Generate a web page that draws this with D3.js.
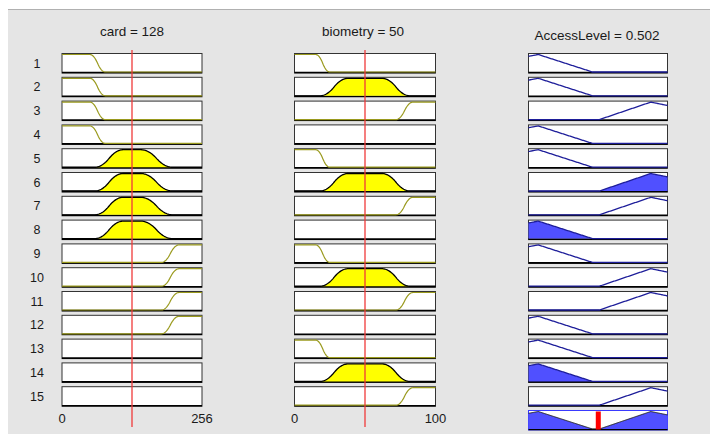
<!DOCTYPE html>
<html>
<head>
<meta charset="utf-8">
<script src="https://cdn.jsdelivr.net/npm/d3@7"></script>
<style>
  body { margin: 0; background: #fff; }
  svg { display: block; font-family: "Liberation Sans", Arial, sans-serif; }
</style>
</head>
<body>
<div id="chart"></div>
<script>
// Rule numbers
const rules = d3.range(1, 16);

// Membership function used by each rule, per variable
const cardRule = ["low","low","low","low","medium","medium","medium","medium","high","high","high","high","none","none","none"];
const bioRule = ["low","medium","high","none","low","medium","high","none","low","medium","high","none","low","medium","high"];
const accessRule = ["low","low","high","low","low","high","high","low","low","high","high","low","low","low","high"];

// Membership function parameters
const cardLow = [51, 79];               // zmf
const cardMedium = [60, 112, 144, 202]; // pimf
const cardHigh = [182, 214];            // smf
const bioLow = [15, 25];
const bioMedium = [18, 38, 62, 82];
const bioHigh = [72, 84];
const accessLow = [-0.6, 0.07, 0.46];   // trimf
const accessHigh = [0.51, 0.88, 1.5];

// Ranges and current values
const cardRange = [0, 256], bioRange = [0, 100], accessRange = [0, 1];
const cardValue = 128, bioValue = 50, accessValue = 0.502;

// membership functions
function zmf(x, p) {
    const a = p[0], b = p[1];
    if (x <= a) return 1;
    if (x <= (a + b) / 2) return 1 - 2 * Math.pow((x - a) / (b - a), 2);
    if (x <= b) return 2 * Math.pow((x - b) / (b - a), 2);
    return 0;
}
function smf(x, p) { return 1 - zmf(x, p); }
function pimf(x, p) { return smf(x, [p[0], p[1]]) * zmf(x, [p[2], p[3]]); }
function trimf(x, p) {
    if (x <= p[0] || x >= p[2]) return 0;
    return x <= p[1] ? (x - p[0]) / (p[1] - p[0]) : (p[2] - x) / (p[2] - p[1]);
}

const cardMF = { low: x => zmf(x, cardLow), medium: x => pimf(x, cardMedium), high: x => smf(x, cardHigh) };
const bioMF = { low: x => zmf(x, bioLow), medium: x => pimf(x, bioMedium), high: x => smf(x, bioHigh) };
const accessMF = { low: x => trimf(x, accessLow), high: x => trimf(x, accessHigh) };

const width = 710, height = 434;

const svg = d3.select("#chart")
    .append("svg")
    .attr("width", width)
    .attr("height", height);

// grey figure panel
svg.append("rect")
    .attr("x", 8).attr("y", 10)
    .attr("width", width - 8).attr("height", height - 10)
    .attr("fill", "#e5e5e5");
svg.append("line")
    .attr("x1", 8).attr("x2", width)
    .attr("y1", 9.5).attr("y2", 9.5)
    .attr("stroke", "#b0b0b0");

// Row position scale (row 16 = aggregated output)
const rowY = d3.scaleLinear().domain([1, 16]).range([53.5, 410.5]);
const boxH = 19.5;

const xCard = d3.scaleLinear().domain(cardRange).range([62, 202]);
const xBio = d3.scaleLinear().domain(bioRange).range([294.5, 435.5]);
const xAcc = d3.scaleLinear().domain(accessRange).range([528.5, 667.5]);

function mfY(row) {
    const top = rowY(row);
    return d3.scaleLinear().domain([0, 1]).range([top + boxH - 1, top + 1]);
}

function drawBox(x, row, stroke) {
    const top = rowY(row);
    svg.append("rect")
        .attr("x", x.range()[0]).attr("y", top)
        .attr("width", x.range()[1] - x.range()[0]).attr("height", boxH)
        .attr("fill", "white")
        .attr("stroke", stroke || "#333")
        .attr("stroke-width", 1);
    svg.append("line")
        .attr("x1", x.range()[0]).attr("x2", x.range()[1])
        .attr("y1", top + boxH - 0.5).attr("y2", top + boxH - 0.5)
        .attr("stroke", "black")
        .attr("stroke-width", 1.6);
}

function samples(x) {
    const d = x.domain();
    return d3.range(0, 201).map(i => d[0] + (d[1] - d[0]) * i / 200);
}

// Input columns
function drawInput(x, ruleMF, mfs, value) {
    rules.forEach((r, i) => {
        drawBox(x, r);
        const name = ruleMF[i];
        if (name === "none") return;
        const f = mfs[name];
        const y = mfY(r);
        const pts = samples(x).map(v => [v, f(v)]);
        const filled = f(value) > 0;
        if (filled) {
            svg.append("path")
                .datum(pts)
                .attr("d", d3.area().x(d => x(d[0])).y0(y(0)).y1(d => y(d[1])))
                .attr("fill", "#ffff00");
        }
        svg.append("path")
            .datum(pts)
            .attr("d", d3.line().x(d => x(d[0])).y(d => y(d[1])))
            .attr("fill", "none")
            .attr("stroke", filled ? "black" : "#9a9a1e")
            .attr("stroke-width", filled ? 1.3 : 1.2);
    });
}

drawInput(xCard, cardRule, cardMF, cardValue);
drawInput(xBio, bioRule, bioMF, bioValue);

// Output column: each rule clipped at its firing strength
const strengths = rules.map((r, i) => {
    const parts = [];
    if (cardRule[i] !== "none") parts.push(cardMF[cardRule[i]](cardValue));
    if (bioRule[i] !== "none") parts.push(bioMF[bioRule[i]](bioValue));
    return d3.min(parts);
});

rules.forEach((r, i) => {
    drawBox(xAcc, r);
    const f = accessMF[accessRule[i]];
    const y = mfY(r);
    const pts = samples(xAcc).map(v => [v, f(v)]);
    if (strengths[i] > 0) {
        svg.append("path")
            .datum(pts.map(d => [d[0], Math.min(d[1], strengths[i])]))
            .attr("d", d3.area().x(d => xAcc(d[0])).y0(y(0)).y1(d => y(d[1])))
            .attr("fill", "#5050ff");
    }
    svg.append("path")
        .datum(pts)
        .attr("d", d3.line().x(d => xAcc(d[0])).y(d => y(d[1])))
        .attr("fill", "none")
        .attr("stroke", "#1e1e9a")
        .attr("stroke-width", 1.3);
});

// Aggregated output
const agg = samples(xAcc).map(v => [v, d3.max(rules, (r, i) => Math.min(strengths[i], accessMF[accessRule[i]](v)))]);
const yAgg = mfY(16);
drawBox(xAcc, 16, "#3a3aff");
svg.append("path")
    .datum(agg)
    .attr("d", d3.area().x(d => xAcc(d[0])).y0(yAgg(0)).y1(d => yAgg(d[1])))
    .attr("fill", "#5050ff");
svg.append("path")
    .datum(agg)
    .attr("d", d3.line().x(d => xAcc(d[0])).y(d => yAgg(d[1])))
    .attr("fill", "none")
    .attr("stroke", "#222")
    .attr("stroke-width", 1);
svg.append("rect")
    .attr("x", xAcc(accessValue) - 2.5)
    .attr("y", rowY(16) + 1)
    .attr("width", 5)
    .attr("height", boxH - 1.5)
    .attr("fill", "#ff0000");

// Red input lines
[[xCard, cardValue], [xBio, bioValue]].forEach(([x, v]) => {
    svg.append("line")
        .attr("x1", x(v)).attr("x2", x(v))
        .attr("y1", 50).attr("y2", 427)
        .attr("stroke", "#f03a3a")
        .attr("stroke-width", 1.3);
});

// Row numbers
svg.selectAll(".rownum")
    .data(rules)
    .enter().append("text")
    .attr("x", 37)
    .attr("y", r => rowY(r) + boxH / 2)
    .attr("dy", "0.35em")
    .style("text-anchor", "middle")
    .style("font-size", "12.5px")
    .attr("fill", "#1a1a1a")
    .text(r => r);

// Titles
const titles = [
    { x: xCard(cardValue), y: 36, t: "card = " + cardValue },
    { x: xBio(bioValue) - 2, y: 36, t: "biometry = " + bioValue },
    { x: 597, y: 40, t: "AccessLevel = " + accessValue }
];
titles.forEach(d => {
    svg.append("text")
        .attr("x", d.x).attr("y", d.y)
        .style("text-anchor", "middle")
        .style("font-size", "13.5px")
        .attr("fill", "#1a1a1a")
        .text(d.t);
});

// Range labels under input columns
[[xCard, cardRange], [xBio, bioRange]].forEach(([x, range]) => {
    range.forEach(v => {
        svg.append("text")
            .attr("x", x(v)).attr("y", 423)
            .style("text-anchor", "middle")
            .style("font-size", "13px")
            .attr("fill", "#1a1a1a")
            .text(v);
    });
});
</script>
</body>
</html>
